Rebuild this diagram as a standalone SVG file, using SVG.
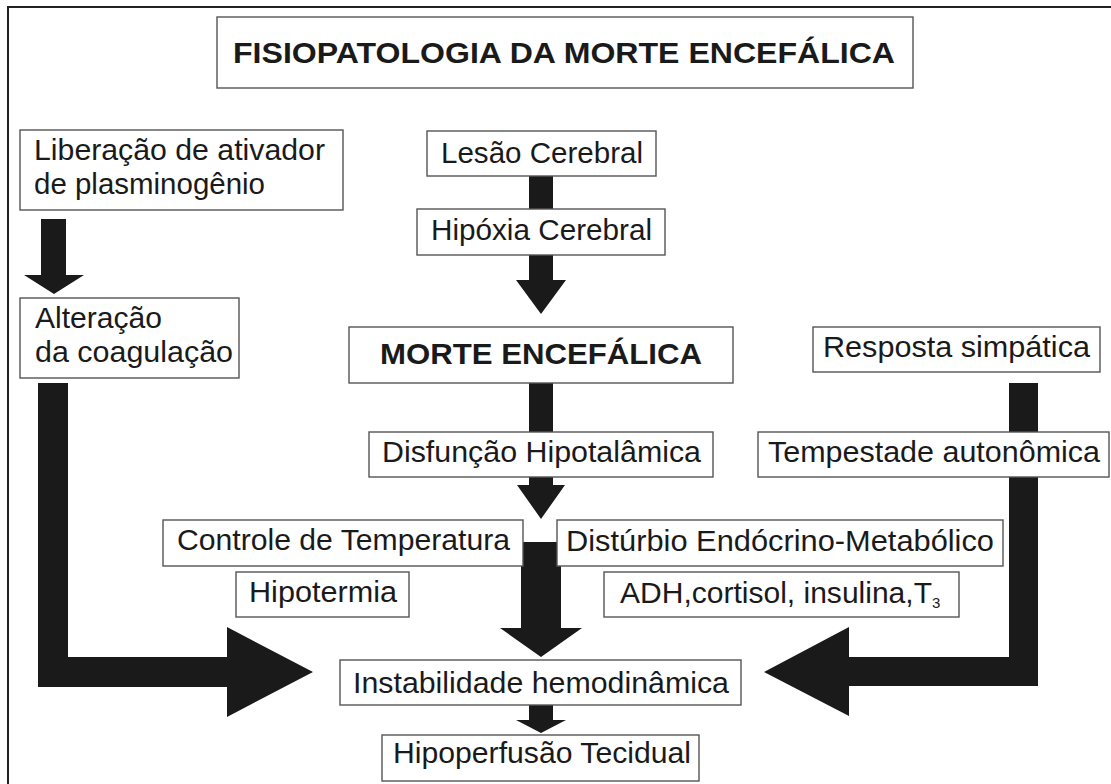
<svg xmlns="http://www.w3.org/2000/svg" width="1111" height="784" viewBox="0 0 1111 784">
<style>
.box{fill:#fff;stroke:#555;stroke-width:1.4}
.t{font-family:"Liberation Sans",Arial,Helvetica,sans-serif;font-size:30px;fill:#1a1a1a}
.b{font-weight:bold}
.arr{fill:#1a1a1a}
</style>
<rect x="0" y="0" width="1111" height="784" fill="#fff"/>
<rect x="8" y="7" width="1120" height="800" fill="none" stroke="#222" stroke-width="2"/>

<g id="connectors">
<polygon class="arr" points="41,219 66,219 66,275 84,275 54,294 24,275 41,275"/>
<polygon class="arr" points="38,383 68,383 68,657 227,657 227,627 313,672 227,717 227,687 38,687"/>
<rect class="arr" x="529" y="176" width="24" height="34"/>
<polygon class="arr" points="529,255 553,255 553,280 566,280 541,314 516,280 529,280"/>
<rect class="arr" x="529" y="383" width="24" height="49"/>
<polygon class="arr" points="529,477 553,477 553,485 565,485 541,519 517,485 529,485"/>
<polygon class="arr" points="521,542 561,542 561,628 582,628 541,657 500,628 521,628"/>
<polygon class="arr" points="529,705 553,705 553,720 566,720 541,733 516,720 529,720"/>
<polygon class="arr" points="1038,383 1009,383 1009,657 849,657 849,627 764,672 849,716 849,686 1038,686"/>
</g>

<g id="title"><rect class="box" x="217" y="17" width="696" height="71"/>
<text class="t b" x="233" y="63" textLength="662" lengthAdjust="spacingAndGlyphs">FISIOPATOLOGIA DA MORTE ENCEFÁLICA</text></g>

<g id="liberacao"><rect class="box" x="20" y="130" width="323" height="80"/>
<text class="t" x="34" y="160" textLength="291" lengthAdjust="spacingAndGlyphs">Liberação de ativador</text>
<text class="t" x="34" y="194" textLength="231" lengthAdjust="spacingAndGlyphs">de plasminogênio</text></g>

<g id="alteracao"><rect class="box" x="20" y="298" width="219" height="80"/>
<text class="t" x="35" y="328" textLength="127" lengthAdjust="spacingAndGlyphs">Alteração</text>
<text class="t" x="35" y="362" textLength="198" lengthAdjust="spacingAndGlyphs">da coagulação</text></g>

<g id="lesao"><rect class="box" x="427" y="131" width="229" height="45"/>
<text class="t" x="441" y="163" textLength="202" lengthAdjust="spacingAndGlyphs">Lesão Cerebral</text></g>

<g id="hipoxia"><rect class="box" x="417" y="209" width="248" height="46"/>
<text class="t" x="431" y="240" textLength="221" lengthAdjust="spacingAndGlyphs">Hipóxia Cerebral</text></g>

<g id="morte"><rect class="box" x="349" y="327" width="384" height="56"/>
<text class="t b" x="380" y="364" textLength="322" lengthAdjust="spacingAndGlyphs">MORTE ENCEFÁLICA</text></g>

<g id="resposta"><rect class="box" x="813" y="327" width="287" height="45"/>
<text class="t" x="823" y="357" textLength="267" lengthAdjust="spacingAndGlyphs">Resposta simpática</text></g>

<g id="disfuncao"><rect class="box" x="369" y="432" width="344" height="45"/>
<text class="t" x="382" y="462" textLength="319" lengthAdjust="spacingAndGlyphs">Disfunção Hipotalâmica</text></g>

<g id="tempestade"><rect class="box" x="758" y="432" width="351" height="45"/>
<text class="t" x="768" y="462" textLength="332" lengthAdjust="spacingAndGlyphs">Tempestade autonômica</text></g>

<g id="controle"><rect class="box" x="163" y="520" width="360" height="46"/>
<text class="t" x="177" y="550" textLength="333" lengthAdjust="spacingAndGlyphs">Controle de Temperatura</text></g>

<g id="disturbio"><rect class="box" x="557" y="520" width="446" height="46"/>
<text class="t" x="566" y="551" textLength="428" lengthAdjust="spacingAndGlyphs">Distúrbio Endócrino-Metabólico</text></g>

<g id="hipotermia"><rect class="box" x="236" y="572" width="173" height="45"/>
<text class="t" x="249" y="602" textLength="148" lengthAdjust="spacingAndGlyphs">Hipotermia</text></g>

<g id="adh"><rect class="box" x="604" y="572" width="355" height="45"/>
<text class="t" x="620" y="603"><tspan textLength="312" lengthAdjust="spacingAndGlyphs">ADH,cortisol, insulina,T</tspan><tspan font-size="15" dy="5">3</tspan></text></g>

<g id="instabilidade"><rect class="box" x="340" y="660" width="401" height="45"/>
<text class="t" x="353" y="693" textLength="376" lengthAdjust="spacingAndGlyphs">Instabilidade hemodinâmica</text></g>

<g id="hipoperfusao"><rect class="box" x="382" y="735" width="317" height="46"/>
<text class="t" x="393" y="763" textLength="298" lengthAdjust="spacingAndGlyphs">Hipoperfusão Tecidual</text></g>
</svg>
